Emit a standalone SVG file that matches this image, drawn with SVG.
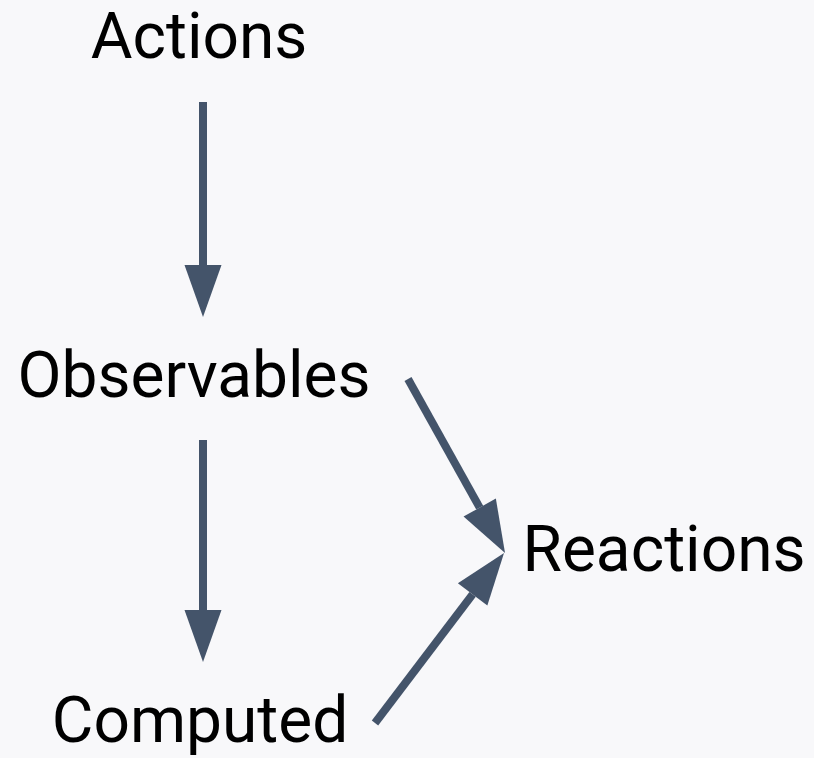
<svg xmlns="http://www.w3.org/2000/svg" width="814" height="758" viewBox="0 0 814 758">
<style>
.lbl{font-family:Roboto,"Liberation Sans",sans-serif;font-size:64px;fill:#000;text-anchor:middle}
.edge{stroke:#44546a;stroke-width:8;fill:none}
</style>
<defs>
<marker id="ah" markerUnits="userSpaceOnUse" markerWidth="52" markerHeight="37" refX="0" refY="18.5" orient="auto" overflow="visible">
<path d="M0,0 L52,18.5 L0,37 z" fill="#44546a"/>
</marker>
</defs>
<rect width="814" height="758" fill="#f8f8fa"/>
<g id="connectors">
<line class="edge" x1="203" y1="102" x2="203" y2="265" marker-end="url(#ah)"/>
<line class="edge" x1="203" y1="440" x2="203" y2="610" marker-end="url(#ah)"/>
<line class="edge" x1="408" y1="379" x2="479.7" y2="507.6" marker-end="url(#ah)"/>
<line class="edge" x1="375" y1="723" x2="472.6" y2="594.4" marker-end="url(#ah)"/>
</g>
<g id="actions"><text class="lbl" x="199" y="58">Actions</text></g>
<g id="observables"><text class="lbl" x="194" y="397">Observables</text></g>
<g id="computed"><text class="lbl" x="200" y="742">Computed</text></g>
<g id="reactions"><text class="lbl" x="664" y="571">Reactions</text></g>
</svg>
